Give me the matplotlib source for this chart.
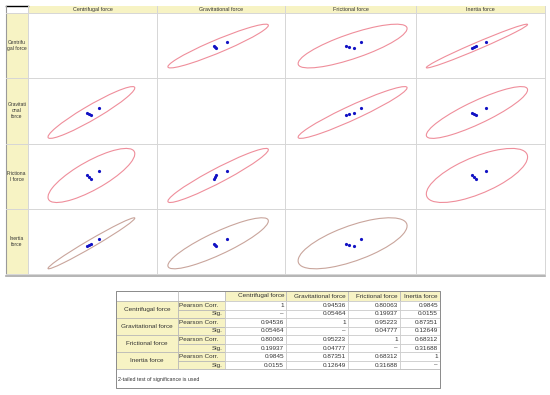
import numpy as np
import matplotlib.pyplot as plt
from matplotlib.patches import Ellipse, Rectangle

plt.rcParams['font.family'] = ['Liberation Sans', 'DejaVu Sans']

# 변수 이름
variables = ['Centrifugal force', 'Gravitational force', 'Frictional force', 'Inertia force']
row_labels = ['Centrifu\ngal force', 'Gravitati\nonal\nforce', 'Frictiona\nl force', 'Inertia\nforce']

# 관측값 (그림에서 읽은 표준화 점수, n=4)
centrifugal = [-0.15, -0.45, -0.85, 1.45]
gravitational = [-0.61, -0.38, -0.20, 1.58]
frictional = [-1.07, -0.63, 0.24, 1.34]
inertia = [-0.08, -0.33, -0.75, 1.50]

# 상관 표
pearson = [
    [1, 0.94536, 0.80063, 0.9845],
    [0.94536, 1, 0.95223, 0.87351],
    [0.80063, 0.95223, 1, 0.68312],
    [0.9845, 0.87351, 0.68312, 1],
]
sig = [
    [None, 0.05464, 0.19937, 0.0155],
    [0.05464, None, 0.04777, 0.12649],
    [0.19937, 0.04777, None, 0.31688],
    [0.0155, 0.12649, 0.31688, None],
]

data = [np.array(v) for v in (centrifugal, gravitational, frictional, inertia)]
n = len(centrifugal)
F95 = 19.0  # F(0.95; 2, 2)
k = np.sqrt(2 * (n - 1) / (n - 2) * F95 * (1 + 1 / n))

# 축 여백 (변수별: 아래쪽, 위쪽)
margins = [(0.155, 0.172), (0.085, 0.13), (0.10, 0.068), (0.08, 0.135)]

W, H = 550, 395
fig = plt.figure(figsize=(W / 100, H / 100), dpi=100)
bg = fig.add_axes([0, 0, 1, 1])
bg.set_xlim(0, W)
bg.set_ylim(H, 0)
bg.axis('off')

yellow = '#f7f3c4'
grid_c = '#d6d6d6'
txt_c = '#333333'

col_edges = [28, 157, 285, 416, 545]
row_edges = [13, 78, 144, 209, 274]

# 머리글 영역
bg.add_patch(Rectangle((28, 5.5), 517, 7.5, facecolor=yellow, edgecolor='none'))
bg.add_patch(Rectangle((5.5, 13), 22.5, 261, facecolor=yellow, edgecolor='none'))
bg.plot([5.5, 28], [5.5, 5.5], color='black', lw=1.0)
bg.plot([5.5, 5.5], [5.5, 274], color='#9a9a9a', lw=0.8)
for x in col_edges:
    bg.plot([x, x], [5.5, 274], color=grid_c, lw=0.7)
for y in row_edges:
    bg.plot([5.5, 545], [y, y], color=grid_c, lw=0.7)
bg.plot([5.5, 545], [276, 276], color='#a8a8a8', lw=1.2)

for i, name in enumerate(variables):
    cx = (col_edges[i] + col_edges[i + 1]) / 2
    bg.text(cx, 9.4, name, fontsize=3.9, color=txt_c, ha='center', va='center')
    cy = (row_edges[i] + row_edges[i + 1]) / 2
    bg.text(16.8, cy, row_labels[i], fontsize=3.6, color=txt_c, ha='center', va='center',
            linespacing=1.25)


def axis_range(v):
    m, s = data[v].mean(), data[v].std(ddof=1)
    lo, hi = margins[v]
    e_lo, e_hi = m - k * s, m + k * s
    span = (e_hi - e_lo) / (1 - lo - hi)
    return e_lo - lo * span, e_hi + hi * span


# 산점도 행렬
for r in range(4):
    for c in range(4):
        x0, x1 = col_edges[c], col_edges[c + 1]
        y0, y1 = row_edges[r], row_edges[r + 1]
        ax = fig.add_axes([x0 / W, 1 - y1 / H, (x1 - x0) / W, (y1 - y0) / H])
        ax.set_facecolor('none')
        ax.axis('off')
        ax.set_xlim(*axis_range(c))
        ax.set_ylim(*axis_range(r))
        if r == c:
            continue
        xs, ys = data[c], data[r]
        sx, sy = xs.std(ddof=1), ys.std(ddof=1)
        rho = pearson[r][c]
        cov = np.array([[sx ** 2, rho * sx * sy], [rho * sx * sy, sy ** 2]])
        vals, vecs = np.linalg.eigh(cov)
        angle = np.degrees(np.arctan2(vecs[1, 1], vecs[0, 1]))
        ell_color = '#c9a59c' if r == 3 else '#ef8e9b'
        ax.add_patch(Ellipse((xs.mean(), ys.mean()), 2 * k * np.sqrt(vals[1]), 2 * k * np.sqrt(vals[0]),
                             angle=angle, facecolor='none', edgecolor=ell_color, lw=0.8))
        ax.plot(xs, ys, 'o', color='#1212c4', markersize=2.3, markeredgewidth=0)

# 상관 표
t_cols = [116, 178, 225, 286, 348, 400, 440]
t_top, head_bot, row_h = 291, 301, 8.55
foot_bot = 388
fs = 4.6
rows_bot = head_bot + 8 * row_h

for i in range(4):
    bg.add_patch(Rectangle((t_cols[i + 2], t_top), t_cols[i + 3] - t_cols[i + 2], head_bot - t_top,
                           facecolor=yellow, edgecolor='#b4b4b4', lw=0.5))
    bg.text(t_cols[i + 3] - 2, (t_top + head_bot) / 2, variables[i], fontsize=fs, color=txt_c,
            ha='right', va='center')
bg.add_patch(Rectangle((t_cols[0], t_top), t_cols[2] - t_cols[0], head_bot - t_top,
                       facecolor='white', edgecolor='#b4b4b4', lw=0.5))
bg.plot([t_cols[1], t_cols[1]], [t_top, head_bot], color='#b4b4b4', lw=0.5)

for i in range(4):
    y_a = head_bot + 2 * i * row_h
    bg.add_patch(Rectangle((t_cols[0], y_a), t_cols[1] - t_cols[0], 2 * row_h,
                           facecolor=yellow, edgecolor='#b4b4b4', lw=0.5))
    bg.text((t_cols[0] + t_cols[1]) / 2, y_a + row_h, variables[i], fontsize=fs, color=txt_c,
            ha='center', va='center')
    for j, lab in enumerate(['Pearson Corr.', 'Sig.']):
        yy = y_a + j * row_h
        bg.add_patch(Rectangle((t_cols[1], yy), t_cols[2] - t_cols[1], row_h,
                               facecolor=yellow, edgecolor='#b4b4b4', lw=0.5))
        if j == 0:
            bg.text(t_cols[1] + 1.2, yy + row_h / 2, lab, fontsize=fs, color=txt_c, ha='left', va='center')
        else:
            bg.text(t_cols[2] - 2, yy + row_h / 2, lab, fontsize=fs, color=txt_c, ha='right', va='center')
        for c in range(4):
            bg.add_patch(Rectangle((t_cols[c + 2], yy), t_cols[c + 3] - t_cols[c + 2], row_h,
                                   facecolor='white', edgecolor='#c8c8c8', lw=0.5))
            val = pearson[i][c] if j == 0 else sig[i][c]
            s = '\u2013' if val is None else ('1' if val == 1 else f'{val:g}')
            bg.text(t_cols[c + 3] - 2, yy + row_h / 2, s, fontsize=fs, color=txt_c, ha='right', va='center')

bg.add_patch(Rectangle((t_cols[0], rows_bot), t_cols[-1] - t_cols[0], foot_bot - rows_bot,
                       facecolor='white', edgecolor='#b4b4b4', lw=0.5))
bg.text(t_cols[0] + 2, rows_bot + 10, '2-tailed test of significance is used', fontsize=3.8,
        color=txt_c, ha='left', va='center')
bg.add_patch(Rectangle((t_cols[0], t_top), t_cols[-1] - t_cols[0], foot_bot - t_top,
                       facecolor='none', edgecolor='#8c8c8c', lw=0.7))

fig.savefig('out.png', dpi=100)
